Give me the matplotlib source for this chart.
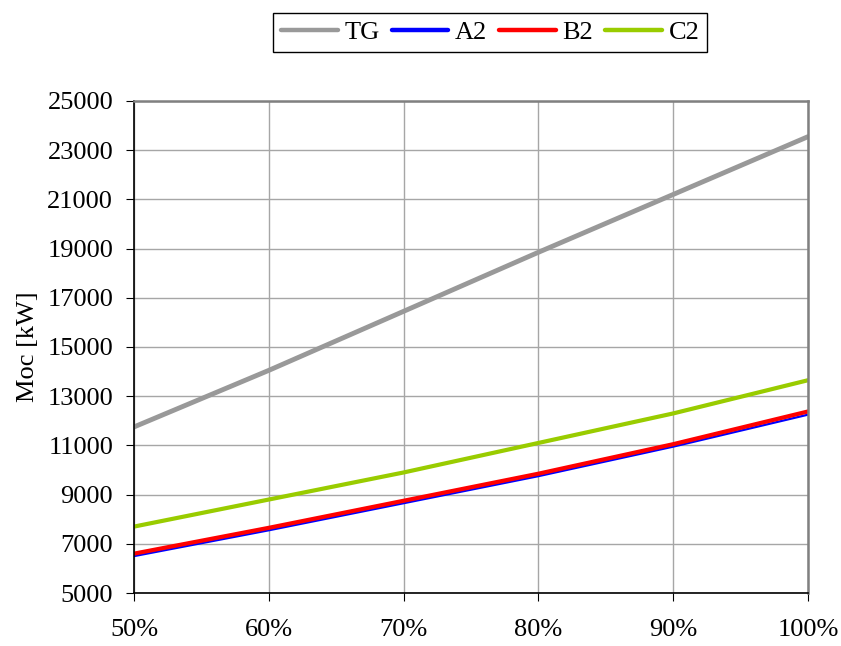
import matplotlib
matplotlib.use("Agg")
from matplotlib import pyplot as plt
from matplotlib.ticker import FuncFormatter

plt.rcParams['font.family'] = ['Liberation Serif', 'DejaVu Serif']

load = [50, 60, 70, 80, 90, 100]
tg = [11750, 14050, 16450, 18850, 21200, 23550]
a2 = [6500, 7550, 8650, 9750, 10950, 12250]
b2 = [6600, 7650, 8750, 9850, 11050, 12380]
c2 = [7700, 8800, 9900, 11100, 12300, 13650]

fig = plt.figure(figsize=(8.41, 6.46), dpi=100)
ax = fig.add_axes([0.1593, 0.0820, 0.8015, 0.7617])

ax.plot(load, tg, color='#999999', lw=3.5, label='TG', solid_capstyle='round')
ax.plot(load, a2, color='#0000ff', lw=1.6, label='A2', solid_capstyle='round')
ax.plot(load, b2, color='#ff0000', lw=3.0, label='B2', solid_capstyle='round')
ax.plot(load, c2, color='#99cc00', lw=3.0, label='C2', solid_capstyle='round')

ax.set_xlim(50, 100)
ax.set_ylim(5000, 25000)
ax.set_xticks(load)
ax.set_yticks(range(5000, 25001, 2000))
ax.xaxis.set_major_formatter(FuncFormatter(lambda v, p: '%d%%' % v))
ax.tick_params(labelsize=19, direction='out', length=6, color='black')
ax.tick_params(axis='x', pad=13)
ax.tick_params(axis='y', pad=9)
ax.grid(True, color='#a6a6a6', lw=1)
ax.set_axisbelow(True)

for s in ['left', 'bottom']:
    ax.spines[s].set_color('black')
    ax.spines[s].set_linewidth(1.2)
for s in ['top', 'right']:
    ax.spines[s].set_color('#808080')
    ax.spines[s].set_linewidth(1.8)

ax.set_ylabel('Moc [kW]', fontsize=19, labelpad=6)

leg = fig.legend(loc='center', bbox_to_anchor=(0.583, 0.95), ncol=4, fontsize=19,
                 handlelength=2.15, handletextpad=0.25, columnspacing=0.45,
                 fancybox=False, edgecolor='black', framealpha=1,
                 borderpad=0.3, borderaxespad=0)
leg.get_frame().set_linewidth(1.0)
for h in leg.get_lines():
    h.set_linewidth(3.2)

fig.savefig('out.png', dpi=100)
